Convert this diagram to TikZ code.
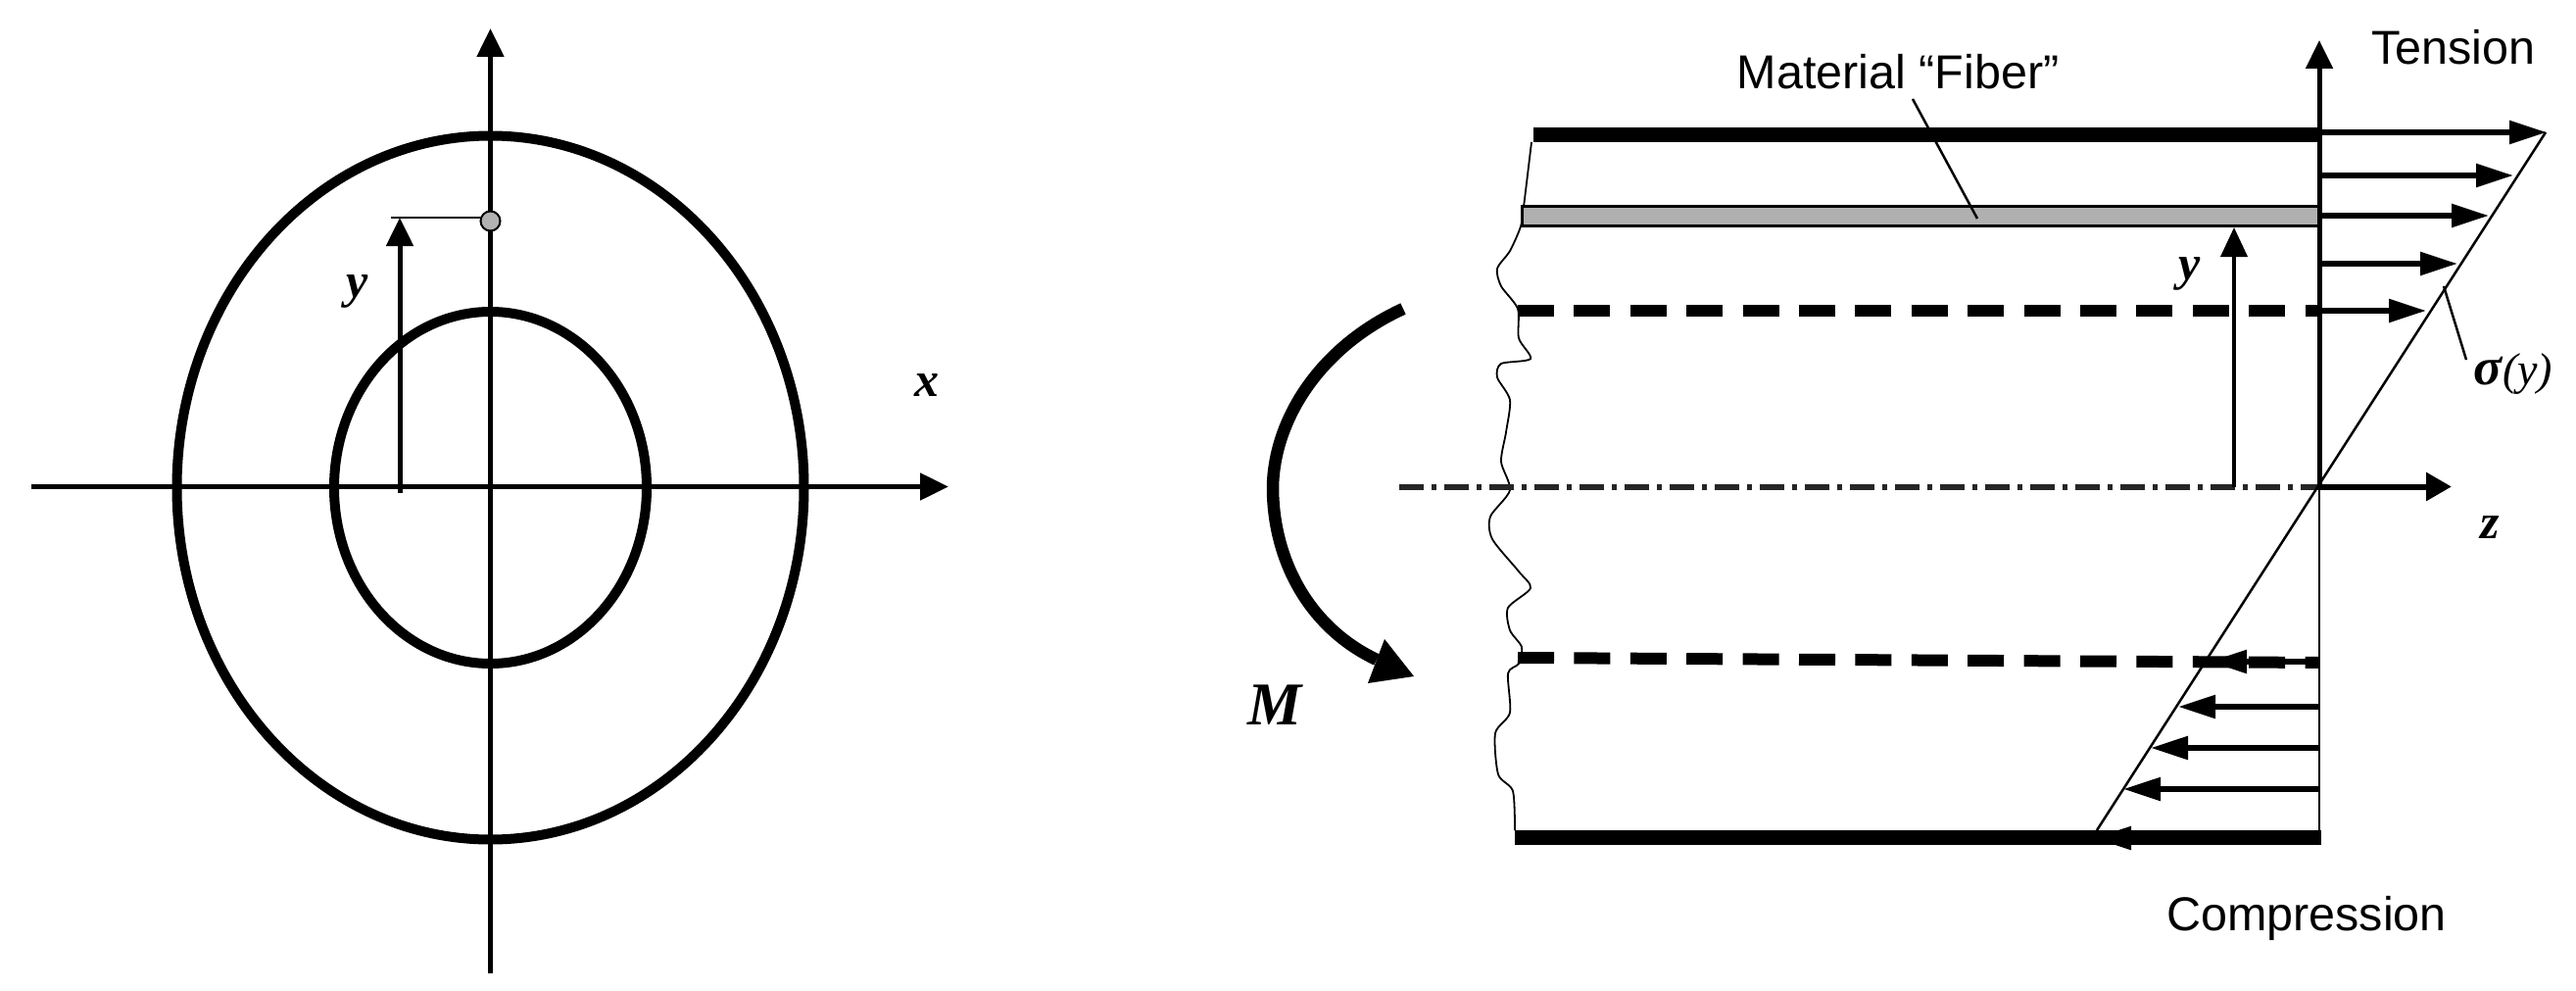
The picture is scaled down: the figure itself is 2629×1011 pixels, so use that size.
\documentclass[tikz,border=0pt]{standalone}
\usepackage{fontspec}
\setmainfont{Liberation Serif}
\newfontfamily\labelsans{Liberation Sans}
\usetikzlibrary{arrows.meta}
\tikzset{
  ring/.style={draw=black,line width=10pt},
  axisline/.style={draw=black,line width=5pt,-{Triangle[length=29pt,width=27pt]}},
  thinline/.style={draw=black,line width=2.5pt},
  stressarrow/.style={draw=black,line width=5.5pt,-{Triangle[length=38pt,width=23pt]}},
  heavybar/.style={draw=black,line width=15pt},
  dashbar/.style={draw=black,line width=12pt,dash pattern=on 37pt off 20.4pt},
  sanslabel/.style={font=\labelsans\fontsize{48.5}{50}\selectfont,inner sep=0pt},
  mathlabel/.style={font=\bfseries\itshape\fontsize{50}{52}\selectfont,inner sep=0pt},
}
\begin{document}
\begin{tikzpicture}[x=1pt,y=-1pt]
\useasboundingbox (0,0) rectangle (2629,1011);
% left figure
\coordinate (cl) at (500.5,497.5);
\coordinate (xs) at (32,496.5);
\coordinate (xe) at (968,496.5);
\coordinate (ys) at (500.5,993);
\coordinate (ye) at (500.5,29);
\draw[ring] (cl) ellipse [x radius=320,y radius=359];
\draw[ring] (cl) ellipse [x radius=159.5,y radius=179.5];
\draw[axisline] (xs) -- (xe);
\draw[axisline] (ys) -- (ye);
\coordinate (yfoot) at (408,503);
\coordinate (ytip) at (408,222);
\node[circle,draw=black,line width=2pt,fill=black!30,minimum size=20pt,inner sep=0pt] (pt) at (500.5,225.5) {};
\coordinate (yref) at (399,222);
\draw[thinline] (yref) -- (yref -| pt.west);
\draw[axisline] (yfoot) -- (ytip);
\node[mathlabel] (ly) at (365,297) {y};
\node[mathlabel] (lx) at (946,393) {x};
% right figure: section
\coordinate (o) at (2367,496.5);
\coordinate (oT) at (2367,41);
\coordinate (oB) at (2367,862);
\draw[black,line width=1.8pt] plot[smooth,tension=0.45] coordinates {
 (1563,145)(1555,211)(1552,231)(1541,256)(1528,274)(1532,292)(1549,315)(1550,345)(1562,366)
 (1532,371)(1528,385)(1541,408)(1537,441)(1532,471)(1541,500)(1521,527)(1523,550)(1550,583)
 (1562,600)(1539,620)(1541,643)(1553,660)(1550,677)(1539,687)(1541,727)(1526,748)(1529,790)
 (1544,807)(1546,847)};
\coordinate (tl) at (1565,137.5);
\coordinate (tr) at (2367,137.5);
\coordinate (bl) at (1546,854.5);
\coordinate (br) at (2369,854.5);
\draw[heavybar] (tl) -- (tr);
\draw[heavybar] (bl) -- (br);
\draw[draw=black,line width=3pt,fill=black!31] (1553,211) rectangle (2367,231);
\coordinate (fa) at (1952,101);
\coordinate (fb) at (2018,223);
\draw[thinline] (fa) -- (fb);
\coordinate (d1a) at (1549,316.5);
\coordinate (d1b) at (2367,316.5);
\coordinate (d2a) at (1549,671);
\coordinate (d2b) at (2367,676);
\draw[dashbar] (d1a) -- (d1b);
\draw[dashbar] (d2a) -- (d2b);
\coordinate (cs) at (1428,496.5);
\draw[black!85,line width=6pt,dash pattern=on 25pt off 8pt on 5pt off 8pt] (cs) -- (o);
\draw[thinline] (o) -- (oB);
\draw[axisline] (o) -- (oT);
\coordinate (zt) at (2502,496.5);
\draw[draw=black,line width=6pt,-{Triangle[length=26pt,width=28pt]}] (o) -- (zt);
\coordinate (yb) at (2280,496.5);
\coordinate (yt) at (2280,232);
\draw[draw=black,line width=4pt,-{Triangle[length=30pt,width=27pt]}] (yb) -- (yt);
% stress
\coordinate (st) at (2598,135);
\coordinate (sb) at (2140,847);
\draw[thinline] (st) -- (sb);
\foreach \yy/\xx in {135/2599,179/2565,220/2540,269/2508,317/2476,675/2255,721/2223,763/2195,805/2167,855/2137}
  \draw[stressarrow] (2367,\yy) -- (\xx,\yy);
\coordinate (sa) at (2494,292);
\coordinate (sc) at (2517,367);
\draw[thinline] (sa) -- (sc);
% moment
\draw[draw=black,line width=12.5pt] (1432,315) .. controls (1345,355) and (1300,430) .. (1299,497)
  .. controls (1299,570) and (1335,640) .. (1405,673);
\coordinate (ma) at (1413,652);
\coordinate (mb) at (1443,690);
\coordinate (mc) at (1396,697);
\fill[black] (ma) -- (mb) -- (mc) -- cycle;
% labels
\node[sanslabel] (t1) at (2504,48) {Tension};
\node[sanslabel] (t2) at (2354,937) {Compression};
\node[sanslabel] (t3) at (1937,73) {Material “Fiber”};
\node[mathlabel] (t4) at (2235,279) {y};
\node[mathlabel] (t5) at (2541,538) {z};
\node[mathlabel,font=\bfseries\itshape\fontsize{62}{64}\selectfont] (t6) at (1301,719) {M};
\node[inner sep=0pt,font=\itshape\fontsize{46}{48}\selectfont] (t7) at (2565,382) {{\bfseries\fontsize{54}{54}\selectfont σ}(y)};
\end{tikzpicture}
\end{document}
